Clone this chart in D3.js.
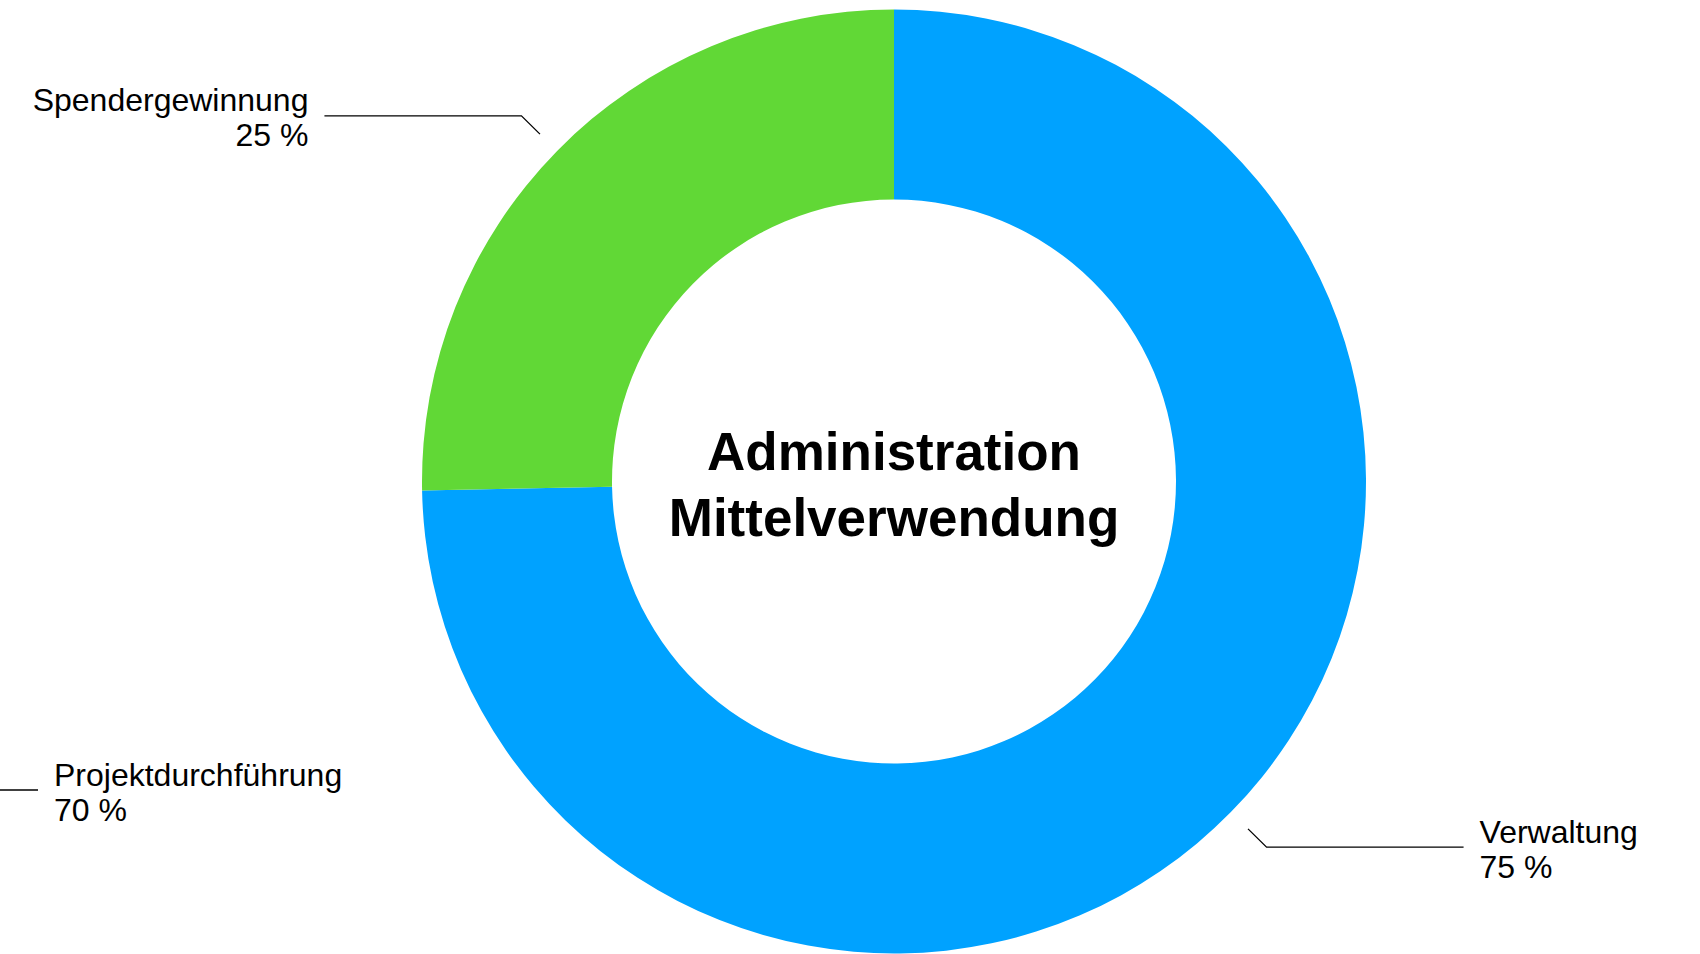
<!DOCTYPE html>
<html>
<head>
<meta charset="utf-8">
<script src="https://cdn.jsdelivr.net/npm/d3@7"></script>
<style>
  html, body { margin: 0; padding: 0; background: #fff; }
  svg { display: block; }
  text { font-family: "Liberation Sans", Arial, Helvetica, sans-serif; fill: #000; }
</style>
</head>
<body>
<div id="chart"></div>
<script>
// values
const categories = ["Verwaltung", "Projektdurchführung", "Spendergewinnung"];
const sliceShares = [74.7, 0, 25.3];          // share of the ring each slice covers
const labelPercents = [75, 70, 25];           // percent printed in each label
const sliceColors = ["#00a2ff", "#00a2ff", "#61d836"];
const titleLines = ["Administration", "Mittelverwendung"];

const width = 1700;
const height = 954;
const center = {x: 894, y: 481.5};
const outerR = 472;
const innerR = 282;

document.addEventListener("DOMContentLoaded", drawChart);

function drawChart(){
    const svg = d3.select("#chart").append("svg")
        .attr("width", width)
        .attr("height", height);

    const data = categories.map((name, i) => ({
        name: name, share: sliceShares[i], percent: labelPercents[i], color: sliceColors[i]
    }));

    const pie = d3.pie()
        .sort(null)
        .value(d => d.share);
    const arcs = pie(data);

    const arc = d3.arc()
        .innerRadius(innerR)
        .outerRadius(outerR);

    const g = svg.append("g")
        .attr("transform", "translate(" + center.x + "," + center.y + ")");

    g.selectAll("path.slice")
        .data(arcs.filter(a => a.value > 0))
        .enter()
        .append("path")
        .attr("class", "slice")
        .attr("d", arc)
        .attr("fill", d => d.data.color);

    // leader lines + labels
    const startArc = d3.arc().innerRadius(outerR + 24).outerRadius(outerR + 24);
    const elbowArc = d3.arc().innerRadius(outerR + 50).outerRadius(outerR + 50);
    const runLength = 197;
    const gap = 16;

    const labels = arcs.map(a => {
        if (a.value > 0) {
            const mid = (a.startAngle + a.endAngle) / 2;
            const p0 = startArc.centroid(a);
            const p1 = elbowArc.centroid(a);
            const dir = Math.sin(mid) >= 0 ? 1 : -1;
            const p2 = [p1[0] + dir * runLength, p1[1]];
            return {d: a.data, pts: [p0, p1, p2], textX: p2[0] + dir * gap, lineY: p1[1], dir: dir};
        }
        // the empty slice keeps its label at the left edge, text reading to the right
        const textX = 54 - center.x;
        const lineY = 790 - center.y;
        const p2 = [textX - gap, lineY];
        const p1 = [p2[0] - runLength, lineY];
        return {d: a.data, pts: [p1, p2], textX: textX, lineY: lineY, dir: 1};
    });

    g.selectAll("polyline.leader")
        .data(labels)
        .enter()
        .append("polyline")
        .attr("class", "leader")
        .attr("points", d => d.pts.map(p => p.join(",")).join(" "))
        .attr("fill", "none")
        .attr("stroke", "#000")
        .attr("stroke-width", 1.3);

    const lbl = g.selectAll("text.label")
        .data(labels)
        .enter()
        .append("text")
        .attr("class", "label")
        .attr("font-size", 32)
        .attr("text-anchor", d => d.dir > 0 ? "start" : "end");
    lbl.append("tspan")
        .attr("x", d => d.textX)
        .attr("y", d => d.lineY - 4.5)
        .text(d => d.d.name);
    lbl.append("tspan")
        .attr("x", d => d.textX)
        .attr("y", d => d.lineY + 30.5)
        .text(d => d.d.percent + " %");

    // centre title
    g.append("text")
        .attr("text-anchor", "middle")
        .attr("font-size", 53)
        .attr("font-weight", "bold")
        .selectAll("tspan")
        .data(titleLines)
        .enter()
        .append("tspan")
        .attr("x", 0)
        .attr("y", (d, i) => -12 + i * 66)
        .text(d => d);
}
</script>
</body>
</html>
